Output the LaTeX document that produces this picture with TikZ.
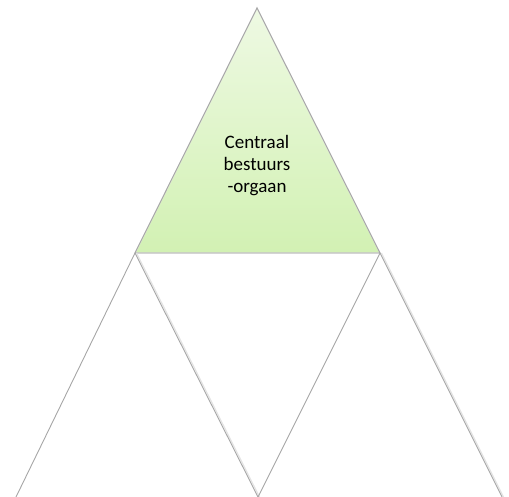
\documentclass[tikz,border=0pt]{standalone}
\usepackage{fontspec}
\setmainfont{Carlito}
\definecolor{TopLight}{HTML}{EEF9E3}
\definecolor{TopGreen}{HTML}{D2F1B3}
\definecolor{EdgeGrey}{HTML}{A6A6A6}
\definecolor{EdgeShade}{HTML}{E4E4E4}

\begin{document}
\begin{tikzpicture}[x=1pt, y=-1pt,
  edge/.style={draw=EdgeGrey, line width=0.9pt},
  shade/.style={draw=EdgeShade, line width=1.2pt},
  label/.style={align=center, font=\fontsize{19}{22}\selectfont, text=black}]

  % Bildrahmen (509 x 497)
  \useasboundingbox (0,0) rectangle (509,497);

  % Eckpunkte
  \coordinate (apex) at (257,8);
  \coordinate (baseL) at (135,253);
  \coordinate (baseR) at (380,253);
  \coordinate (footL) at (16,497);
  \coordinate (footM) at (258,497);
  \coordinate (footR) at (502,497);

  % Oberes Dreieck mit Verlauf
  \shade[top color=TopLight, bottom color=TopGreen] (apex) -- (baseR) -- (baseL) -- cycle;
  \draw[edge] (apex) -- (baseR) -- (baseL) -- cycle;

  % Untere Dreiecke (Schatten, dann Linien)
  \draw[shade] ([xshift=1.5pt]baseL) -- ([xshift=1.5pt]footM);
  \draw[shade] ([xshift=1.5pt]baseR) -- ([xshift=1.5pt]footR);
  \draw[edge] (baseL) -- (footL);
  \draw[edge] (baseL) -- (footM);
  \draw[edge] (baseR) -- (footM);
  \draw[edge] (baseR) -- (footR);

  % Beschriftung
  \node[label] (central) at (257,166) {Centraal\\bestuurs\\-orgaan};

\end{tikzpicture}
\end{document}
